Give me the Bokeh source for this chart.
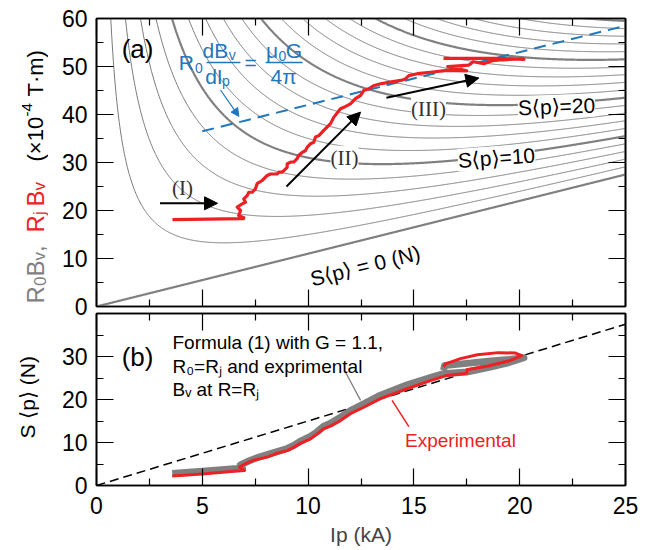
import numpy as np
from bokeh.plotting import figure
from bokeh.models import (Range1d, FixedTicker, LinearAxis, Label, Arrow, NormalHead)
from bokeh.layouts import column, row
from bokeh.embed import file_html
from bokeh.resources import INLINE

# ---------------- data ----------------
G = 1.1            # slope of S<p>=0 line (x1e-4 T m per kA)
C_S = 20.0         # S<p> coefficient of the contour family
s_levels = list(range(0, 42, 2))
s_thick = [0, 10, 20, 30, 40]

blue_x = [5.0, 25.0]
blue_y = [36.5, 58.5]

rj_ip = [3.59, 6.95, 6.96, 6.72, 6.81, 6.65, 6.89, 7.04, 6.96, 7.12, 7.20, 7.36, 7.51, 7.59,
         7.83, 8.07, 8.22, 8.54, 8.62, 8.78, 9.01, 9.01, 9.17, 9.32, 9.48, 9.56, 9.72, 9.88,
         9.96, 10.11, 10.27, 10.35, 10.51, 10.74, 11.06, 11.21, 11.53, 11.69, 12.0, 12.24,
         12.48, 12.63, 12.87, 13.1, 13.42, 13.81, 14.37, 14.6, 14.76, 15.16, 15.78, 16.57,
         17.5, 16.6, 17.6, 17.8, 18.3, 18.7, 19.2, 20.1, 20.2, 19.0, 17.5, 16.4]
rj_bv = [18.1, 18.3, 18.48, 18.96, 20.0, 20.7, 21.4, 21.7, 22.4, 23.1, 23.8, 23.8, 24.5, 25.6,
         26.25, 27.3, 27.6, 27.6, 28.0, 28.0, 29.0, 29.7, 30.1, 30.1, 30.8, 31.5, 32.1, 32.5,
         33.2, 33.9, 34.2, 35.3, 35.6, 36.7, 38.1, 39.4, 41.2, 41.5, 42.2, 43.3,
         44.0, 45.0, 45.35, 46.0, 46.4, 46.7, 47.1, 47.4, 48.1, 48.5, 48.8, 49.2,
         49.1, 50.0, 50.3, 51.0, 50.6, 51.2, 51.4, 51.6, 51.5, 51.7, 51.7, 51.7]

dash_ip = [0.0, 25.0]
dash_s = [0.0, 37.5]

form_ip = [3.58, 5.0, 6.5, 6.9, 6.8, 7.2, 7.5, 8.07, 8.54, 9.01, 9.32, 9.64, 10.11, 10.43,
           10.74, 11.06, 11.53, 12.0, 12.63, 13.42, 14.68, 15.78, 16.4, 17.5, 18.5, 19.5,
           20.2, 19.5, 18.5, 17.5, 16.45, 16.4]
form_s = [2.8, 3.3, 3.9, 4.0, 4.8, 5.7, 6.3, 7.2, 7.9, 8.6, 9.3, 10.3, 11.4, 12.5,
          13.8, 14.5, 15.9, 17.4, 19.0, 21.0, 23.4, 25.1, 26.0, 26.4, 27.4, 28.6,
          29.7, 29.3, 28.9, 28.4, 27.9, 26.8]

exp_ip = [3.58, 5.0, 6.5, 7.0, 6.75, 7.1, 7.43, 8.07, 8.54, 9.01, 9.32, 9.64, 10.11, 10.43,
          10.74, 11.06, 11.53, 12.0, 12.63, 13.42, 14.68, 15.78, 16.57, 17.5, 17.5, 18.5,
          19.5, 20.1, 19.8, 19.0, 18.0, 17.2, 16.5, 16.4]
exp_s = [2.2, 2.7, 3.3, 3.5, 4.3, 5.2, 5.9, 6.6, 7.5, 8.1, 8.9, 9.8, 10.85, 12.0,
         13.2, 13.8, 15.1, 16.7, 18.2, 20.2, 22.5, 24.4, 25.6, 26.1, 26.9, 27.8,
         29.0, 30.2, 30.8, 30.9, 30.4, 29.5, 28.3, 27.6]

a_yticks = [0, 10, 20, 30, 40, 50, 60]
b_yticks = [0, 10, 20, 30]
x_ticks = [0, 5, 10, 15, 20, 25]

# ---------------- style ----------------
FONT = "Liberation Sans"
SERIF = "Liberation Serif"
RED = "#ed2024"
BLUE = "#1f77bd"
GRAY = "#808080"


def frame_axes(p, yticks, x_labels):
    p.add_layout(LinearAxis(), "above")
    p.add_layout(LinearAxis(), "right")
    xminor = [t + 2.5 for t in x_ticks[:-1]]
    yminor = [t + 5 for t in yticks]
    for ax in p.xaxis:
        ax.ticker = FixedTicker(ticks=x_ticks, minor_ticks=xminor)
    for ax in p.yaxis:
        ax.ticker = FixedTicker(ticks=yticks, minor_ticks=yminor)
    for ax in p.axis:
        ax.major_tick_in = 17
        ax.major_tick_out = 0
        ax.minor_tick_in = 7
        ax.minor_tick_out = 0
        ax.axis_line_width = 1.6
        ax.axis_line_color = "black"
        ax.major_tick_line_width = 1.2
        ax.minor_tick_line_width = 1.2
        ax.major_tick_line_color = "black"
        ax.minor_tick_line_color = "black"
        ax.major_label_text_font = FONT
        ax.major_label_text_font_size = "23px"
        ax.major_label_text_color = "black"
    hidden = list(p.above) + list(p.right)
    if not x_labels:
        hidden += list(p.below)
    for ax in hidden:
        ax.major_label_text_color = None
        ax.major_label_text_font_size = "1px"
        ax.major_label_standoff = 0
    for ax in p.left:
        ax.major_label_standoff = 9
    p.grid.visible = False
    p.outline_line_color = "black"
    p.outline_line_width = 1.6
    p.border_fill_color = None


def lab(p, text, x, y, size=20, color="black", font=FONT, align="center", angle=0, bg=None,
        baseline="middle"):
    kw = {}
    if bg:
        kw = dict(background_fill_color=bg, background_fill_alpha=1.0)
    p.add_layout(Label(x=x, y=y, text=text, text_font=font, text_font_size=f"{size}px",
                       text_color=color, text_align=align, text_baseline=baseline,
                       angle=angle, angle_units="deg", **kw))


LEFT_STRIP = 48

# ---------------- panel (a) ----------------
p1 = figure(frame_width=529, frame_height=288, x_range=Range1d(0, 25), y_range=Range1d(0, 60),
            output_backend="svg", toolbar_location=None,
            min_border_left=96 - LEFT_STRIP, min_border_right=20, min_border_top=18,
            min_border_bottom=18)
frame_axes(p1, a_yticks, x_labels=False)

xg = np.linspace(0.02, 25, 900)
thin_xs, thin_ys, thick_xs, thick_ys = [], [], [], []
for s in s_levels:
    yy = G * xg + C_S * s / xg
    m = yy <= 62
    if s in s_thick:
        thick_xs.append(xg[m]); thick_ys.append(yy[m])
    else:
        thin_xs.append(xg[m]); thin_ys.append(yy[m])
p1.multi_line(thin_xs, thin_ys, line_color="#7a7a7a", line_width=1.0)
p1.multi_line(thick_xs, thick_ys, line_color=GRAY, line_width=2.2)

p1.line(blue_x, blue_y, line_color=BLUE, line_width=2.0, line_dash="12 7")
p1.line(rj_ip, rj_bv, line_color=RED, line_width=3.2, line_join="round")

for (xs, ys, xe, ye) in [(3.0, 21.5, 5.72, 21.5), (8.98, 25.0, 12.48, 40.5), (13.7, 43.5, 18.07, 47.6)]:
    p1.add_layout(Arrow(end=NormalHead(size=13, fill_color="black", line_color="black"),
                        x_start=xs, y_start=ys, x_end=xe, y_end=ye,
                        line_color="black", line_width=2))
p1.add_layout(Arrow(end=NormalHead(size=8, fill_color=BLUE, line_color=BLUE),
                    x_start=5.86, y_start=45.1, x_end=6.73, y_end=39.6,
                    line_color=BLUE, line_width=1.2))

lab(p1, "(a)", 1.94, 53.75, size=26)
lab(p1, "(I)", 4.06, 24.6, size=21, font=SERIF, color="#333333")
lab(p1, "(II)", 11.72, 31.0, size=21, font=SERIF, color="#333333", bg="white")
lab(p1, "(III)", 15.69, 41.25, size=21, font=SERIF, color="#333333", bg="white")
lab(p1, "S⟨p⟩=20", 21.74, 41.7, size=21, angle=2, bg="white")
lab(p1, "S⟨p⟩=10", 18.9, 31.0, size=21, angle=4, bg="white")
lab(p1, "S⟨p⟩ = 0 (N)", 12.7, 8.5, size=21, angle=14)

# blue formula
lab(p1, "R", 4.25, 50.83, size=21, color=BLUE)
lab(p1, "0", 4.84, 49.6, size=14, color=BLUE)
lab(p1, "dB", 5.62, 53.3, size=21, color=BLUE)
lab(p1, "v", 6.42, 52.3, size=14, color=BLUE)
lab(p1, "dI", 5.55, 48.0, size=21, color=BLUE)
lab(p1, "p", 6.12, 46.9, size=14, color=BLUE)
lab(p1, "=", 7.28, 50.83, size=21, color=BLUE)
lab(p1, "μ", 8.3, 53.3, size=21, color=BLUE)
lab(p1, "0", 8.78, 52.1, size=14, color=BLUE)
lab(p1, "G", 9.33, 53.3, size=21, color=BLUE)
lab(p1, "4π", 8.84, 48.0, size=21, color=BLUE)
for (a, b) in [(5.2, 6.8), (8.0, 9.74)]:
    p1.add_layout(Arrow(end=None, x_start=a, y_start=50.83, x_end=b, y_end=50.83,
                        line_color=BLUE, line_width=1.3))

# ---------------- panel (b) ----------------
p2 = figure(frame_width=529, frame_height=172, x_range=Range1d(0, 25), y_range=Range1d(0, 40),
            output_backend="svg", toolbar_location=None,
            min_border_left=96 - LEFT_STRIP, min_border_right=20, min_border_top=4,
            min_border_bottom=58)
frame_axes(p2, b_yticks, x_labels=True)
p2.background_fill_color = None
p2.margin = (-15, 0, 0, 0)
p2.below[0].major_label_standoff = 11
p2.below[0].axis_label = "Ip (kA)"
p2.below[0].axis_label_text_font = FONT
p2.below[0].axis_label_text_font_size = "21px"
p2.below[0].axis_label_text_font_style = "normal"
p2.below[0].axis_label_standoff = 6

p2.line(dash_ip, dash_s, line_color="black", line_width=1.5, line_dash="9 5")
p2.line(form_ip, form_s, line_color=GRAY, line_width=7, line_join="round")
p2.line(exp_ip, exp_s, line_color=RED, line_width=3, line_join="round")

p2.add_layout(Arrow(end=None, x_start=11.77, y_start=26.35, x_end=12.48, y_end=19.8,
                    line_color=GRAY, line_width=1.3))
p2.add_layout(Arrow(end=None, x_start=13.97, y_start=19.8, x_end=14.76, y_end=13.7,
                    line_color=RED, line_width=1.5))

lab(p2, "(b)", 1.94, 30.0, size=26)
lab(p2, "Formula (1) with G = 1.1,", 3.59, 33.3, size=19, align="left")
lab(p2, "R₀=Rⱼ and exprimental", 3.59, 27.7, size=19, align="left")
lab(p2, "Bᵥ at R=Rⱼ", 3.59, 22.4, size=19, align="left")
lab(p2, "Experimental", 17.2, 10.5, size=19, color=RED)

# ---------------- left strip with the y-axis titles ----------------
H = 545
ps = figure(width=LEFT_STRIP, height=H, x_range=Range1d(0, LEFT_STRIP), y_range=Range1d(0, H),
            output_backend="svg", toolbar_location=None, x_axis_location=None,
            y_axis_location=None, min_border_left=0, min_border_right=0,
            min_border_top=0, min_border_bottom=0)
ps.grid.visible = False
ps.outline_line_color = None
ps.border_fill_color = None

BASE = 35   # baseline x (page px) of the rotated title
title_parts = [  # (text, page y where the piece starts, size, baseline shift, colour)
    ("R", 303, 24, 0, GRAY), ("0", 285.5, 17, 4, GRAY), ("B", 276, 24, 0, GRAY),
    ("v", 260, 17, 4, GRAY), (",", 251.5, 24, 0, GRAY),
    ("R", 232, 24, 0, RED), ("j", 214.5, 17, 4, RED), ("B", 206, 24, 0, RED),
    ("v", 190, 17, 4, RED),
    ("(×10", 161, 22, 0, "black"), ("-4", 116, 15, -9, "black"),
    ("T·m)", 96, 22, 0, "black"),
]
for (t, py, sz, dx, col) in title_parts:
    lab(ps, t, BASE + dx, H - py, size=sz, color=col, align="left", angle=90,
        baseline="alphabetic")
lab(ps, "S ⟨p⟩ (N)", 27, H - 438, size=21, color="black", align="left", angle=90)

layout = row(ps, column(p1, p2))
open("out.html", "w").write(file_html(layout, INLINE))
